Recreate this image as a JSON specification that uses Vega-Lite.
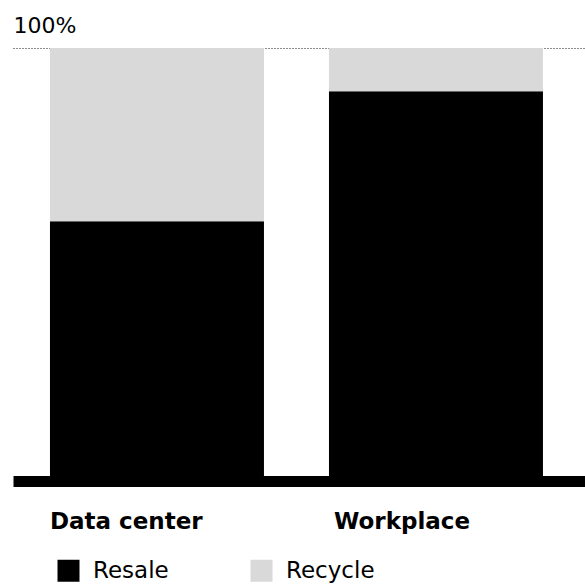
{
  "$schema": "https://vega.github.io/schema/vega-lite/v6.json",
  "width": 572,
  "height": 433,
  "autosize": {"type": "none"},
  "padding": {"left": 13, "top": 48, "right": 0, "bottom": 106},
  "background": "white",
  "config": {
    "view": {"stroke": null},
    "font": "DejaVu Sans"
  },
  "data": {
    "values": [
      {"segment": "Data center", "type": "Resale", "share": 0.6},
      {"segment": "Data center", "type": "Recycle", "share": 0.4},
      {"segment": "Workplace", "type": "Resale", "share": 0.9},
      {"segment": "Workplace", "type": "Recycle", "share": 0.1}
    ]
  },
  "mark": {"type": "bar"},
  "encoding": {
    "x": {
      "field": "segment",
      "type": "nominal",
      "sort": null,
      "scale": {"paddingInner": 0.233, "paddingOuter": 0.1416, "align": 0.468},
      "axis": {
        "title": null,
        "labelAlign": "left",
        "labelAngle": 0,
        "labelOffset": {"condition": {"test": "datum.value === 'Workplace'", "value": -102}, "value": -107},
        "labelBaseline": "alphabetic",
        "labelFont": "DejaVu Sans",
        "labelFontSize": 23,
        "labelFontWeight": "bold",
        "labelColor": "#000",
        "labelPadding": 47,
        "ticks": false,
        "tickSize": 0,
        "domain": true,
        "domainColor": "#000",
        "domainWidth": 11,
        "grid": false
      }
    },
    "y": {
      "field": "share",
      "type": "quantitative",
      "stack": "zero",
      "scale": {"domain": [0, 1], "nice": false},
      "axis": {
        "title": null,
        "values": [1],
        "format": ".0%",
        "domain": false,
        "ticks": false,
        "tickSize": 0,
        "labelAlign": "left",
        "labelBaseline": "alphabetic",
        "labelPadding": 0,
        "labelOffset": -16,
        "labelFont": "DejaVu Sans",
        "labelFontSize": 22,
        "labelColor": "#000",
        "grid": true,
        "gridColor": "#000",
        "gridOpacity": 0.9,
        "gridDash": [1, 2],
        "gridWidth": 1.2
      }
    },
    "color": {
      "field": "type",
      "type": "nominal",
      "scale": {"domain": ["Resale", "Recycle"], "range": ["#000000", "#d9d9d9"]},
      "legend": {
        "title": null,
        "orient": "none",
        "legendX": 44,
        "legendY": 511,
        "direction": "horizontal",
        "symbolType": "square",
        "symbolSize": 484,
        "symbolStrokeWidth": 0,
        "symbolOpacity": 1,
        "labelFont": "DejaVu Sans",
        "labelFontSize": 23,
        "labelColor": "#000",
        "labelOffset": 13,
        "columnPadding": 81
      }
    },
    "order": {"field": "type", "sort": "descending"}
  }
}
